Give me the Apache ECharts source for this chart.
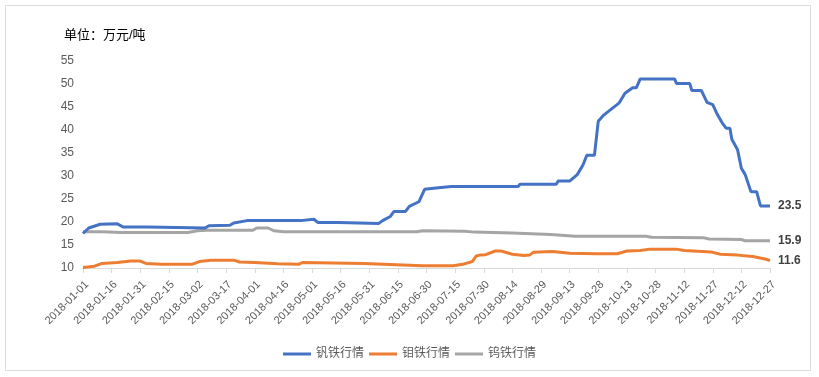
<!DOCTYPE html>
<html>
<head>
<meta charset="utf-8">
<script src="https://cdn.jsdelivr.net/npm/echarts@6/dist/echarts.min.js"></script>
<style>html,body{margin:0;padding:0;background:#fff}#c{width:819px;height:377px}</style>
</head>
<body>
<div id="c"></div>
<script>
const startDate = '2018-01-01';
const endDate = '2018-12-27';
const seriesNames = ['钒铁行情', '钼铁行情', '钨铁行情'];
const unitTitle = '单位：万元/吨';

// 钒铁行情
const vanDates = ['01-01','01-04','01-10','01-19','01-22','02-04','02-05','03-06','03-08','03-19','03-21','03-28','04-25','04-26','05-02','05-04','05-15','05-16','06-05','06-07','06-11','06-13','06-19','06-21','06-26','06-29','07-05','07-13','08-17','08-18','09-06','09-07','09-13','09-17','09-20','09-22','09-26','09-28','10-01','10-09','10-12','10-16','10-18','10-20','11-07','11-08','11-15','11-16','11-21','11-24','11-27','11-29','12-02','12-04','12-06','12-07','12-10','12-12','12-14','12-17','12-20','12-22','12-27'];
const vanValues = [17.5,18.7,19.5,19.6,18.9,18.9,18.7,18.7,19.2,19.3,19.8,20.3,20.3,20.7,20.6,19.9,19.9,19.7,19.7,20.3,21.2,22.3,22.3,23.4,24.4,27.1,27.4,27.7,27.7,28.2,28.2,28.9,28.9,30.3,32.4,34.5,34.5,41.9,43.3,45.9,48.0,49.2,49.2,51.1,51.1,50.1,50.1,48.6,48.6,46.0,45.5,43.7,41.5,40.4,40.4,38.0,35.7,31.7,30.3,26.6,26.6,23.5,23.5];

// 钼铁行情
const molyDates = ['01-01','01-07','01-11','01-19','01-26','01-31','02-03','02-11','02-27','03-03','03-09','03-21','03-24','04-01','04-13','04-24','04-26','05-28','06-28','07-14','07-19','07-24','07-26','07-28','07-31','08-05','08-08','08-14','08-20','08-23','08-25','09-04','09-13','09-27','10-08','10-13','10-20','10-25','11-08','11-12','11-26','12-01','12-10','12-18','12-25','12-27'];
const molyValues = [10.1,10.4,11.0,11.2,11.5,11.5,11.0,10.8,10.8,11.4,11.7,11.7,11.3,11.2,10.9,10.8,11.2,11.0,10.5,10.5,10.8,11.4,12.6,12.8,12.9,13.7,13.7,13.0,12.7,12.8,13.4,13.6,13.2,13.1,13.1,13.7,13.8,14.1,14.1,13.8,13.5,13.0,12.8,12.5,11.9,11.6];

// 钨铁行情
const tungDates = ['01-01','01-11','01-21','02-25','03-02','03-07','03-31','04-02','04-08','04-11','04-16','06-25','06-28','07-20','07-25','08-14','09-03','09-16','10-23','10-26','11-22','11-25','12-12','12-14','12-27'];
const tungValues = [17.9,17.9,17.7,17.7,18.1,18.2,18.2,18.7,18.7,18.1,17.9,17.9,18.1,18.0,17.8,17.6,17.3,16.9,16.9,16.7,16.6,16.3,16.2,15.9,15.9];

const colors = ['#4472C4', '#ED7D31', '#A5A5A5'];

const DAY = 86400000;
const t0 = Date.parse(startDate + 'T00:00:00Z');
const dayIndex = md => (Date.parse('2018-' + md + 'T00:00:00Z') - t0) / DAY;
const totalDays = (Date.parse(endDate + 'T00:00:00Z') - t0) / DAY;
const fmtDate = d => new Date(t0 + d * DAY).toISOString().slice(0, 10);
const toPairs = (dates, vals) => dates.map((d, i) => [dayIndex(d), vals[i]]);

const chart = echarts.init(document.getElementById('c'));
const font = '"Liberation Sans", "Noto Sans CJK SC", sans-serif';
chart.setOption({
  animation: false,
  textStyle: { fontFamily: font },
  graphic: [{
    type: 'rect', silent: true,
    shape: { x: 5.5, y: 5.5, width: 805, height: 365 },
    style: { fill: 'none', stroke: '#d9d9d9', lineWidth: 1 }
  }],
  title: {
    text: unitTitle, left: 59, top: 24,
    textStyle: { fontSize: 13, fontWeight: 'normal', color: '#000', fontFamily: font }
  },
  legend: {
    data: seriesNames, left: 'center', top: 343,
    icon: 'rect', itemWidth: 28, itemHeight: 3, itemGap: 5,
    textStyle: { fontSize: 12, color: '#595959' }
  },
  grid: { left: 83, right: 49, top: 61, bottom: 109, containLabel: false },
  xAxis: {
    type: 'value', min: 0, max: totalDays, interval: 15,
    axisLine: { show: true, lineStyle: { color: '#d9d9d9' } },
    axisTick: { show: true, length: 5, lineStyle: { color: '#d9d9d9' } },
    splitLine: { show: false },
    axisLabel: { rotate: 45, fontSize: 11, color: '#595959', margin: 11, verticalAlign: 'top', formatter: v => fmtDate(v) }
  },
  yAxis: {
    type: 'value', min: 10, max: 55, interval: 5,
    axisLine: { show: false }, axisTick: { show: false }, splitLine: { show: false },
    axisLabel: { fontSize: 12, color: '#595959', margin: 9, padding: [4, 0, 0, 0] }
  },
  series: [
    [vanDates, vanValues], [molyDates, molyValues], [tungDates, tungValues]
  ].map((s, i) => ({
    name: seriesNames[i], type: 'line', data: toPairs(s[0], s[1]),
    symbol: 'none', color: colors[i],
    lineStyle: { width: 3, color: colors[i] },
    z: 3 - i,
    endLabel: {
      show: true, distance: 8, fontSize: 12, fontWeight: 'bold', color: '#404040',
      formatter: p => p.value[1].toFixed(1)
    }
  }))
});
</script>
</body>
</html>
